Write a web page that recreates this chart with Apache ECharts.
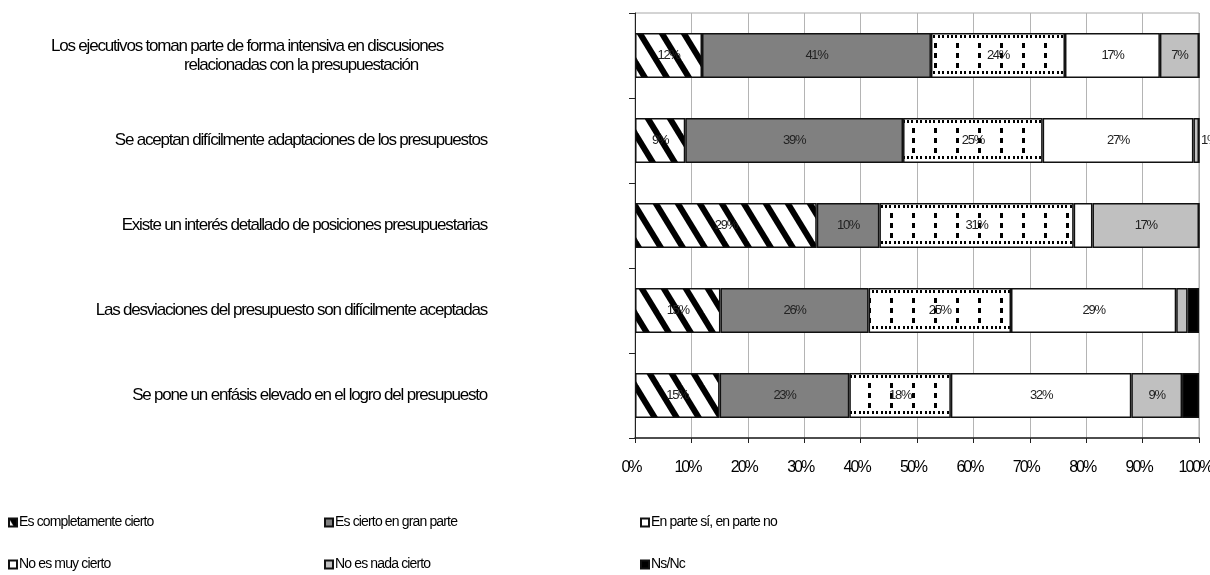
<!DOCTYPE html>
<html>
<head>
<meta charset="utf-8">
<script src="https://cdn.jsdelivr.net/npm/echarts@6/dist/echarts.min.js"></script>
<style>
  html, body { margin: 0; padding: 0; background: #fff; }
  #chart { width: 1210px; height: 575px; }
</style>
</head>
<body>
<div id="chart"></div>
<script>
// Survey statements (one horizontal bar each, top to bottom)
const categories = [
  'Los ejecutivos toman parte de forma intensiva en discusiones\nrelacionadas con la presupuestación',
  'Se aceptan difícilmente adaptaciones de los presupuestos',
  'Existe un interés detallado de posiciones presupuestarias',
  'Las desviaciones del presupuesto son difícilmente aceptadas',
  'Se pone un enfásis elevado en el logro del presupuesto'
];

// Answer options (stack order, left to right)
const answerNames = [
  'Es completamente cierto',
  'Es cierto en gran parte',
  'En parte sí, en parte no',
  'No es muy cierto',
  'No es nada cierto',
  'Ns/Nc'
];

// Percentages of respondents per statement
const completamenteCierto = [12, 9, 29, 15, 15];
const ciertoGranParte     = [41, 39, 10, 26, 23];
const enParte             = [24, 25, 31, 25, 18];
const noMuyCierto         = [17, 27, 3, 29, 32];
const noNadaCierto        = [7, 1, 17, 2, 9];
const nsNc                = [0, 0, 0, 2, 3];

// Axis ticks (percent of each bar)
const xMin = 0, xMax = 100, xStep = 10;

const answerValues = [completamenteCierto, ciertoGranParte, enParte, noMuyCierto, noNadaCierto, nsNc];

const FONT = "'Liberation Sans', Arial, sans-serif";

// Tight, condensed-looking text: negative tracking by font size
(function () {
  const proto = CanvasRenderingContext2D.prototype;
  const desc = Object.getOwnPropertyDescriptor(proto, 'font');
  if (!desc || !('letterSpacing' in proto)) return;
  const tracking = { 13: -1.3, 14: -0.85, 16: -2, 17: -1.2 };
  Object.defineProperty(proto, 'font', {
    configurable: true,
    get() { return desc.get.call(this); },
    set(v) {
      desc.set.call(this, v);
      const m = /(\d+(?:\.\d+)?)px/.exec(v);
      const t = m ? tracking[Math.round(+m[1])] : 0;
      this.letterSpacing = (t || 0) + 'px';
    }
  });
})();

// Layout: one category band = BAND px, bar thickness BAR px
const GRID_TOP = 13, BAND = 85, BAR = 45;

// Diagonal black/white stripes
function stripeTile() {
  const c = document.createElement('canvas');
  c.width = 22; c.height = 36;
  const g = c.getContext('2d');
  g.fillStyle = '#fff';
  g.fillRect(0, 0, 22, 36);
  g.fillStyle = '#000';
  [-22, 0, 22].forEach(o => {
    g.beginPath();
    g.moveTo(o, 0); g.lineTo(o + 7, 0);
    g.lineTo(o + 29, 36); g.lineTo(o + 22, 36);
    g.closePath(); g.fill();
  });
  return c;
}

// Dotted rows along the bar edges plus short vertical dashes
function dottedTile() {
  const c = document.createElement('canvas');
  c.width = 22; c.height = BAND;
  const g = c.getContext('2d');
  g.fillStyle = '#fff';
  g.fillRect(0, 0, 22, BAND);
  g.fillStyle = '#000';
  const barTop = (GRID_TOP + (BAND - BAR) / 2) % BAND;
  [1, 5, 9, 14, 18].forEach(x => {
    g.fillRect(x, barTop + 2, 2, 3);
    g.fillRect(x, barTop + BAR - 7, 2, 3);
  });
  [10, 20, 30].forEach(dy => g.fillRect(10, barTop + dy, 3, 5));
  return c;
}

const fills = [
  { image: stripeTile(), repeat: 'repeat' },
  '#808080',
  { image: dottedTile(), repeat: 'repeat' },
  '#ffffff',
  '#c0c0c0',
  '#000000'
];

// Row totals: each bar is drawn as a 100 % stack of its answers
const totals = categories.map((_, i) => answerValues.reduce((s, arr) => s + arr[i], 0));

const series = answerNames.map((name, si) => ({
  name,
  type: 'bar',
  stack: 'total',
  barWidth: BAR,
  itemStyle: { color: fills[si], borderColor: '#111', borderWidth: 1.5 },
  label: {
    show: true,
    position: 'inside',
    color: '#222',
    fontFamily: FONT,
    fontSize: 13,
    formatter: p => p.data.raw + '%'
  },
  data: answerValues[si].map((v, ci) => {
    const item = { value: v / totals[ci] * 100, raw: v };
    if (v < 5) {
      // narrow slices: only the single 1 % slice keeps its label, set beside the bar end
      if (si === 4 && ci === 1) {
        item.label = { position: 'right', distance: 2 };
      } else {
        item.label = { show: false };
      }
    }
    return item;
  })
}));

// Legend: three columns, two rows
const legendSlots = [[8, 516], [324, 516], [640, 516], [8, 558], [324, 558], [640, 558]];
const legends = answerNames.map((name, i) => ({
  left: legendSlots[i][0],
  top: legendSlots[i][1],
  icon: 'rect',
  itemWidth: 8,
  itemHeight: 8,
  itemGap: 0,
  selectedMode: false,
  padding: 0,
  textStyle: { fontFamily: FONT, fontSize: 14, color: '#000', padding: [0, 0, 0, -3] },
  data: [name]
}));

const option = {
  animation: false,
  backgroundColor: '#fff',
  grid: {
    left: 635, right: 11, top: GRID_TOP, height: BAND * categories.length,
    outerBoundsMode: 'none',
    show: true, borderColor: '#a8a8a8', borderWidth: 1
  },
  legend: legends,
  xAxis: {
    type: 'value',
    min: xMin, max: xMax, interval: xStep,
    axisLine: { show: true, lineStyle: { color: '#222', width: 1.5 } },
    axisTick: { show: true, length: 5, lineStyle: { color: '#222' } },
    splitLine: { show: true, lineStyle: { color: '#b4b4b4', width: 1 } },
    axisLabel: {
      margin: 23,
      padding: [0, 8, 0, 0],
      fontFamily: FONT, fontSize: 16, color: '#000',
      formatter: '{value}%'
    }
  },
  yAxis: {
    type: 'category',
    inverse: true,
    data: categories,
    axisLine: { show: true, lineStyle: { color: '#222', width: 1 } },
    axisTick: { show: true, length: 6, lineStyle: { color: '#222' } },
    axisLabel: {
      margin: 148,
      fontFamily: FONT, fontSize: 17, color: '#000', lineHeight: 19,
      formatter: (v, i) => {
        if (i === 0) {
          const lines = v.split('\n');
          return '{a|' + lines[0] + '}\n{b|' + lines[1] + '}';
        }
        return v;
      },
      rich: {
        a: { fontFamily: FONT, fontSize: 17, color: '#000', lineHeight: 19, padding: [0, 44, 0, 0] },
        b: { fontFamily: FONT, fontSize: 17, color: '#000', lineHeight: 19, padding: [0, 69, 0, 0] }
      }
    }
  },
  series
};

const chart = echarts.init(document.getElementById('chart'), null, { renderer: 'canvas' });
chart.setOption(option);
</script>
</body>
</html>
